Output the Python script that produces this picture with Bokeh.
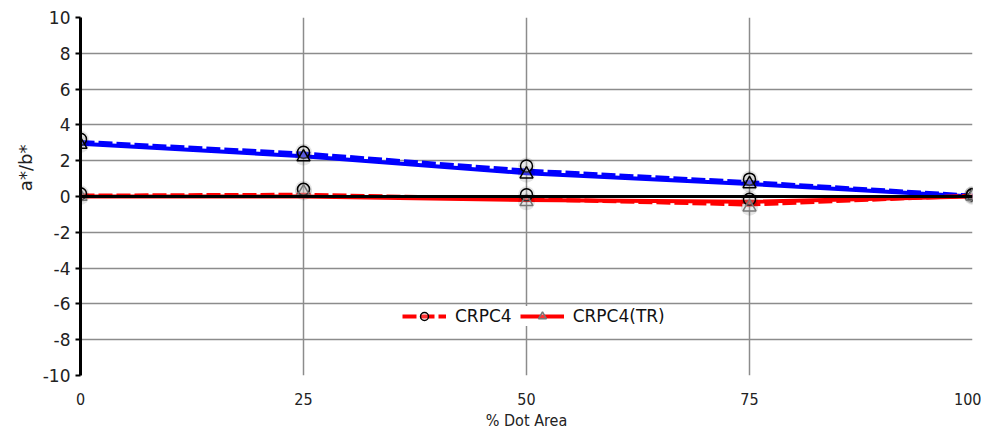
from bokeh.plotting import figure
from bokeh.models import FixedTicker, Range1d, Span, Legend, LegendItem
from bokeh.embed import file_html
from bokeh.resources import INLINE

# data
dot_area = [0, 25, 50, 75, 100]
# marker values
crpc4_b_pts = [3.2, 2.47, 1.7, 0.97, 0.1]
crpc4tr_b_pts = [2.9, 2.2, 1.25, 0.7, 0.05]
crpc4_a_pts = [0.15, 0.4, 0.1, -0.15, 0.1]
crpc4tr_a_pts = [0.0, 0.25, -0.3, -0.6, 0.0]
# connecting line values
crpc4_b_line = [3.05, 2.4, 1.45, 0.8, 0.05]
crpc4tr_b_line = [2.95, 2.25, 1.3, 0.7, 0.0]
crpc4_a_line = [0.05, 0.1, -0.15, -0.45, 0.05]
crpc4tr_a_line = [0.0, 0.0, -0.2, -0.3, 0.0]
y_ticks = [-10, -8, -6, -4, -2, 0, 2, 4, 6, 8, 10]
y_tick_labels = ["-10", "-8", "-6", "-4", "-2", "0", "2", "4", "6", "8", "10"]
x_ticks = [0, 25, 50, 75, 100]
series_names = ["CRPC4", "CRPC4(TR)"]

p = figure(width=981, height=432, output_backend="svg", toolbar_location=None,
           x_range=Range1d(0, 100), y_range=Range1d(-10, 10),
           min_border_left=80, min_border_right=9, min_border_top=17, min_border_bottom=56)
p.outline_line_color = None
p.background_fill_color = "white"
p.border_fill_color = "white"

p.xgrid.ticker = FixedTicker(ticks=x_ticks)
p.ygrid.ticker = FixedTicker(ticks=y_ticks)
for g in (p.xgrid, p.ygrid):
    g.grid_line_color = "#8c8c8c"
    g.grid_line_width = 1.5

p.xaxis.ticker = FixedTicker(ticks=x_ticks)
p.yaxis.ticker = FixedTicker(ticks=y_ticks)
p.yaxis.major_label_overrides = {t: s for t, s in zip(y_ticks, y_tick_labels)}

p.yaxis.axis_line_color = "black"
p.yaxis.axis_line_width = 3
p.yaxis.major_tick_line_color = "black"
p.yaxis.major_tick_line_width = 2
p.yaxis.major_tick_out = 5
p.yaxis.major_tick_in = 0
p.yaxis.minor_tick_line_color = None
p.yaxis.major_label_standoff = 5
p.yaxis.major_label_text_font = "DejaVu Sans"
p.yaxis.major_label_text_font_size = "17px"
p.yaxis.major_label_text_color = "#222222"
p.yaxis.axis_label = "\u00a0" * 10 + "a*/b*"
p.yaxis.axis_label_text_font = "DejaVu Sans"
p.yaxis.axis_label_text_font_style = "normal"
p.yaxis.axis_label_text_font_size = "18px"
p.yaxis.axis_label_text_color = "#222222"
p.yaxis.axis_label_standoff = 4

p.xaxis.axis_line_color = None
p.xaxis.major_tick_line_color = None
p.xaxis.minor_tick_line_color = None
p.xaxis.major_label_standoff = 11
p.xaxis.major_label_text_font = "DejaVu Sans Condensed"
p.xaxis.major_label_text_font_size = "16px"
p.xaxis.major_label_text_color = "#222222"
p.xaxis.axis_label = "% Dot Area"
p.xaxis.axis_label_text_font = "DejaVu Sans Condensed"
p.xaxis.axis_label_text_font_style = "normal"
p.xaxis.axis_label_text_font_size = "16px"
p.xaxis.axis_label_text_color = "#222222"
p.xaxis.axis_label_standoff = 3

# lines
p.line(dot_area, crpc4_b_line, line_color="blue", line_width=4, line_dash="14 4")
p.line(dot_area, crpc4tr_b_line, line_color="blue", line_width=4)
p.add_layout(Span(location=0, dimension="width", line_color="black", line_width=3))
ra_dash = p.line(dot_area, crpc4_a_line, line_color="red", line_width=4, line_dash="14 4")
ra_solid = p.line(dot_area, crpc4tr_a_line, line_color="red", line_width=4)

# marker shadows
for ys in (crpc4_b_pts, crpc4_a_pts, crpc4tr_b_pts, crpc4tr_a_pts):
    p.scatter(dot_area, ys, size=17, marker="circle", fill_color="#000000",
              fill_alpha=0.10, line_color=None)

# markers
c_b = p.scatter(dot_area, crpc4_b_pts, marker="circle", size=12, fill_color="white",
                fill_alpha=0.2, line_color="black", line_width=1.5)
c_a = p.scatter(dot_area, crpc4_a_pts, marker="circle", size=12, fill_color="white",
                fill_alpha=0.2, line_color="black", line_width=1.5)
t_b = p.scatter(dot_area, crpc4tr_b_pts, marker="triangle", size=13, fill_color="white",
                fill_alpha=0.2, line_color="black", line_width=1.5)
t_a = p.scatter(dot_area, crpc4tr_a_pts, marker="triangle", size=13, fill_color="white",
                fill_alpha=0.2, line_color="#777777", line_width=1.5)

legend = Legend(items=[LegendItem(label=series_names[0], renderers=[ra_dash, c_a]),
                       LegendItem(label=series_names[1], renderers=[ra_solid, t_a])],
                location=(322, 49), orientation="horizontal",
                glyph_width=44, glyph_height=20, label_standoff=9, spacing=8,
                padding=4, margin=0, border_line_color=None,
                background_fill_color="white", background_fill_alpha=1.0,
                label_text_font="DejaVu Sans", label_text_font_size="17px",
                label_text_color="#111111")
p.add_layout(legend, "center")

open("out.html", "w").write(file_html(p, INLINE))
